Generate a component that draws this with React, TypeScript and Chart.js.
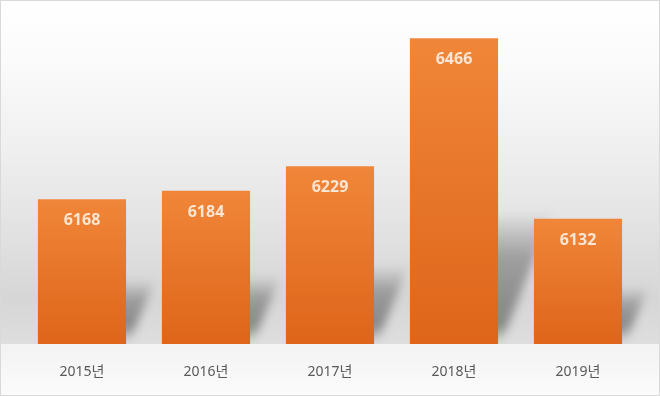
import React, { useEffect, useRef } from "react";
import { Chart, registerables } from "chart.js";

Chart.register(...registerables);

const categories = ["2015년", "2016년", "2017년", "2018년", "2019년"];
const values = [6168, 6184, 6229, 6466, 6132];
const yMin = 5900;
const yMax = 6500;

function blurInto(src: HTMLCanvasElement, W: number, H: number, vertical: boolean) {
  const out = document.createElement("canvas");
  out.width = W;
  out.height = H;
  const o = out.getContext("2d") as CanvasRenderingContext2D;
  o.globalCompositeOperation = "lighter";
  const offs: number[] = [];
  for (let k = -6; k <= 6; k += 1) offs.push(k);
  o.globalAlpha = 1 / offs.length;
  offs.forEach((d) => (vertical ? o.drawImage(src, 0, d) : o.drawImage(src, d, 0)));
  return out;
}

function drawShadows(chart: any) {
  const { ctx, chartArea } = chart;
  const W = chart.width;
  const H = chart.height;
  const yScale = chart.scales.y;
  const xScale = chart.scales.x;
  const base = chartArea.bottom;
  const catW = (chartArea.right - chartArea.left) / values.length;
  const w = catW * 0.711;

  const src = document.createElement("canvas");
  src.width = W;
  src.height = H;
  const s = src.getContext("2d") as CanvasRenderingContext2D;
  values.forEach((v, i) => {
    const cx = xScale.getPixelForValue(i);
    const top = yScale.getPixelForValue(v);
    const left = cx - w / 2;
    const right = cx + w / 2;
    const h = base - top;
    const dx = 0.16 * h + 6;
    const dy = 0.42 * h;
    const b = base - 4;
    const g = s.createLinearGradient(0, b, 0, b - dy);
    g.addColorStop(0, "rgba(85,85,85,0.1)");
    g.addColorStop(Math.min(0.5, 14 / dy), "rgba(85,85,85,0.62)");
    g.addColorStop(0.65, "rgba(85,85,85,0.45)");
    g.addColorStop(1, "rgba(85,85,85,0)");
    s.fillStyle = g;
    s.beginPath();
    s.moveTo(left + 4, b);
    s.lineTo(right + 4, b);
    s.lineTo(right + dx, b - dy);
    s.lineTo(left + dx, b - dy);
    s.closePath();
    s.fill();
  });

  ctx.save();
  ctx.beginPath();
  ctx.rect(0, 0, W, base);
  ctx.clip();
  if ("filter" in ctx) {
    ctx.filter = "blur(5px)";
    ctx.drawImage(src, 0, 0);
    ctx.filter = "none";
  } else {
    const hb = blurInto(src, W, H, false);
    const vb = blurInto(hb, W, H, true);
    ctx.drawImage(vb, 0, 0);
  }
  ctx.restore();
}

const backgroundPlugin = {
  id: "bgWallFloor",
  beforeDraw(chart: any) {
    const { ctx, width, height, chartArea } = chart;
    const floorY = chartArea.bottom;
    ctx.save();
    const g = ctx.createLinearGradient(0, 0, 0, floorY);
    g.addColorStop(0, "#ffffff");
    g.addColorStop(0.17, "#fbfbfb");
    g.addColorStop(0.44, "#efefef");
    g.addColorStop(0.67, "#e2e2e2");
    g.addColorStop(0.87, "#d6d6d6");
    g.addColorStop(1, "#dedede");
    ctx.fillStyle = g;
    ctx.fillRect(0, 0, width, floorY);
    const f = ctx.createLinearGradient(0, floorY, 0, height);
    f.addColorStop(0, "#f3f3f3");
    f.addColorStop(1, "#fbfbfb");
    ctx.fillStyle = f;
    ctx.fillRect(0, floorY, width, height - floorY);
    ctx.restore();
    drawShadows(chart);
  },
  afterDraw(chart: any) {
    const { ctx, width, height } = chart;
    ctx.save();
    ctx.strokeStyle = "#d9d9d9";
    ctx.lineWidth = 1;
    ctx.strokeRect(0.5, 0.5, width - 1, height - 1);
    ctx.restore();
  },
};

const labelPlugin = {
  id: "barLabels",
  afterDatasetsDraw(chart: any) {
    const { ctx } = chart;
    const meta = chart.getDatasetMeta(0);
    ctx.save();
    ctx.font = "bold 16px 'Noto Sans', 'Noto Sans CJK KR', sans-serif";
    ctx.fillStyle = "#fce6d3";
    ctx.textAlign = "center";
    ctx.textBaseline = "middle";
    meta.data.forEach((bar: any, i: number) => {
      ctx.fillText(String(values[i]), bar.x, bar.y + 21.5);
    });
    ctx.restore();
  },
};

export default function App() {
  const ref = useRef<HTMLCanvasElement | null>(null);
  useEffect(() => {
    if (!ref.current) return;
    const chart = new Chart(ref.current, {
      type: "bar",
      data: {
        labels: categories,
        datasets: [
          {
            data: values,
            backgroundColor: (c: any) => {
              const ch = c.chart;
              const area = ch.chartArea;
              if (!area || c.raw == null) return "#E97A30";
              const yTop = ch.scales.y.getPixelForValue(c.raw);
              const g = ch.ctx.createLinearGradient(0, yTop, 0, area.bottom);
              g.addColorStop(0, "#F08639");
              g.addColorStop(1, "#DE651A");
              return g;
            },
            borderWidth: 0,
            barPercentage: 0.711,
            categoryPercentage: 1,
          },
        ],
      },
      options: {
        responsive: false,
        animation: false,
        layout: { padding: { left: 20, right: 20, top: 20, bottom: 15 } },
        plugins: {
          legend: { display: false },
          tooltip: { enabled: false },
        },
        scales: {
          x: {
            grid: { display: false, drawTicks: false },
            border: { display: false },
            afterFit: (scale: any) => {
              scale.height = 37;
            },
            ticks: {
              padding: 20,
              color: "#595959",
              maxRotation: 0,
              font: { family: "'Noto Sans', 'Noto Sans CJK KR', sans-serif", size: 14 },
            },
          },
          y: {
            display: false,
            min: yMin,
            max: yMax,
          },
        },
      },
      plugins: [backgroundPlugin, labelPlugin],
    });
    return () => chart.destroy();
  }, []);
  return (
    <div style={{ position: "absolute", left: 0, top: 0, width: 660, height: 396 }}>
      <canvas ref={ref} width={660} height={396} />
    </div>
  );
}
